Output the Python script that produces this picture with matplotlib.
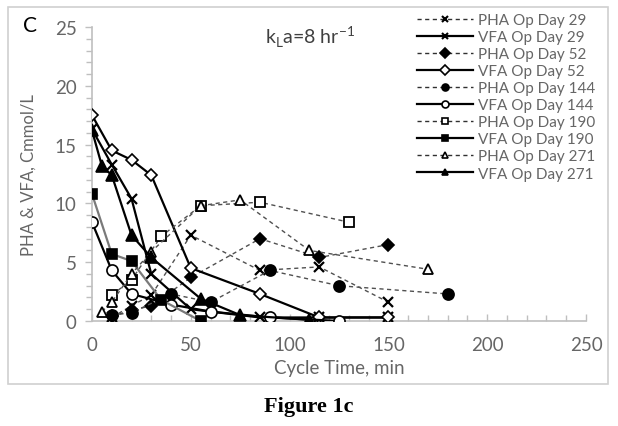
import matplotlib
matplotlib.use("Agg")
import matplotlib.pyplot as plt
from matplotlib.patches import Rectangle
from matplotlib.ticker import MultipleLocator

plt.rcParams['font.family'] = ['Lato', 'DejaVu Sans']

# ---- data ----
t29 = [0, 10, 20, 30, 50, 85, 115, 150]
pha29 = [None, 0.3, 1.3, 2.2, 7.3, 4.3, 4.6, 1.6]
vfa29 = [16.3, 13.3, 10.4, 4.0, 1.0, 0.3, 0.3, 0.3]

t52 = [0, 10, 20, 30, 50, 85, 115, 150]
pha52 = [None, 0.4, 0.9, 1.3, 3.7, 7.0, 5.4, 6.5]
vfa52 = [17.5, 14.5, 13.7, 12.4, 4.5, 2.3, 0.3, 0.3]

t144 = [0, 10, 20, 40, 60, 90, 125, 180]
pha144 = [None, 0.5, 0.7, 2.3, 1.6, 4.3, 3.0, 2.3]
vfa144 = [8.4, 4.3, 2.3, 1.4, 0.8, 0.3, 0.0, None]

t190 = [0, 10, 20, 35, 55, 85, 130]
pha190 = [None, 2.2, 3.5, 7.2, 9.8, 10.1, 8.4]
vfa190 = [10.8, 5.7, 5.1, 1.8, 0.0, None, None]

t271 = [0, 5, 10, 20, 30, 55, 75, 110, 170]
pha271 = [None, 0.8, 1.6, 4.0, 5.9, 9.8, 10.3, 6.0, 4.4]
vfa271 = [16.2, 13.2, 12.4, 7.3, 5.4, 1.9, 0.5, 0.1, None]

x_ticks = [0, 50, 100, 150, 200, 250]
y_ticks = [0, 5, 10, 15, 20, 25]


def pairs(t, v):
    xs = [a for a, b in zip(t, v) if b is not None]
    ys = [b for b in v if b is not None]
    return xs, ys


fig = plt.figure(figsize=(6.18, 4.27), dpi=100)
fig.patch.set_facecolor('white')
# chart border
fig.patches.append(Rectangle((8 / 618, 1 - 385 / 427), 600 / 618, 377 / 427,
                             transform=fig.transFigure, fill=False,
                             edgecolor='#d0d0d0', linewidth=1.2))

ax = fig.add_axes([92 / 618, 1 - 322 / 427, 494 / 618, 294 / 427])

dash_col = '#505050'
dash_style = dict(color=dash_col, linestyle=(0, (3, 2.5)), linewidth=1.0)
solid_style = dict(color='black', linestyle='-', linewidth=1.6)

series = [
    ("PHA Op Day 29", t29, pha29, 'x', 'black', 'black', dash_style, 7.5, 1.6),
    ("VFA Op Day 29", t29, vfa29, 'x', 'black', 'black', solid_style, 7.5, 1.6),
    ("PHA Op Day 52", t52, pha52, 'D', 'black', 'black', dash_style, 6, 1.2),
    ("VFA Op Day 52", t52, vfa52, 'D', 'white', 'black', solid_style, 6, 1.2),
    ("PHA Op Day 144", t144, pha144, 'o', 'black', 'black', dash_style, 8, 1.2),
    ("VFA Op Day 144", t144, vfa144, 'o', 'white', 'black', solid_style, 8, 1.2),
    ("PHA Op Day 190", t190, pha190, 's', 'white', 'black', dash_style, 7, 1.3),
    ("VFA Op Day 190", t190, vfa190, 's', 'black', 'black',
     dict(color='#7a7a7a', linestyle='-', linewidth=1.6), 7.5, 1.2),
    ("PHA Op Day 271", t271, pha271, '^', 'white', 'black', dash_style, 7.5, 1.3),
    ("VFA Op Day 271", t271, vfa271, '^', 'black', 'black', solid_style, 8, 1.2),
]

handles = []
for label, t, v, mk, fc, ec, ls, ms, mew in series:
    xs, ys = pairs(t, v)
    ax.plot(xs, ys, marker=mk, markerfacecolor=fc, markeredgecolor=ec,
            markersize=ms, markeredgewidth=mew, **ls, zorder=3)
    lsh = dict(ls)
    lsh['color'] = 'black' if ls['linestyle'] == '-' else '#303030'
    h, = ax.plot([], [], marker=mk, markerfacecolor=fc, markeredgecolor='black',
                 markersize=5, markeredgewidth=1.5 if mk == 'x' else 1.2, **lsh,
                 label=label)
    handles.append(h)

ax.set_xlim(0, 250)
ax.set_ylim(0, 25)
ax.set_xticks(x_ticks)
ax.set_yticks(y_ticks)
ax.xaxis.set_minor_locator(MultipleLocator(10))
ax.yaxis.set_minor_locator(MultipleLocator(1))

grey = '#bfbfbf'
for s in ['top', 'right']:
    ax.spines[s].set_visible(False)
for s in ['left', 'bottom']:
    ax.spines[s].set_color(grey)
    ax.spines[s].set_linewidth(1.2)

tick_col = '#666666'
ax.tick_params(axis='x', which='both', direction='in', color=grey, width=1.0,
               labelcolor=tick_col, labelsize=13.5, pad=11)
ax.tick_params(axis='x', which='major', length=5)
ax.tick_params(axis='x', which='minor', length=4)
ax.tick_params(axis='y', which='both', direction='out', color=grey, width=1.0,
               labelcolor=tick_col, labelsize=13.5, pad=6)
ax.tick_params(axis='y', which='major', length=5)
ax.tick_params(axis='y', which='minor', length=4)

ax.set_xlabel("Cycle Time, min", color=tick_col, fontsize=13.5, labelpad=4)
ax.set_ylabel("PHA & VFA, Cmmol/L", color=tick_col, fontsize=12, labelpad=13)

fig.text(310 / 618, 1 - 37 / 427, r"k$_\mathregular{L}$a=8 hr$^\mathregular{-1}$",
         ha='center', va='center', fontsize=14, color='#404040')
fig.text(30 / 618, 1 - 26 / 427, "C", fontsize=15, color='black', ha='center', va='center')

leg = ax.legend(handles=handles, loc='upper right', bbox_to_anchor=(598 / 618, 1 - 11 / 427),
                bbox_transform=fig.transFigure, frameon=False, fontsize=11,
                labelspacing=0.2, handlelength=3.7, handletextpad=0.3,
                borderaxespad=0, borderpad=0.2)
for txt in leg.get_texts():
    txt.set_color(tick_col)

fig.text(309 / 618, 1 - 407 / 427, "Figure 1c", family=['Liberation Serif'],
         fontweight='bold', fontsize=16, ha='center', va='center')

fig.savefig("out.png", dpi=100, facecolor='white')
